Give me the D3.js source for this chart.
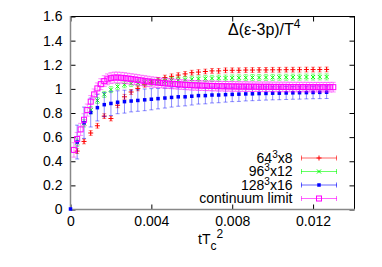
<!DOCTYPE html>
<html>
<head>
<meta charset="utf-8">
<script src="https://cdn.jsdelivr.net/npm/d3@7"></script>
<style>
    html, body { margin: 0; padding: 0; background: #ffffff; }
    svg { display: block; font-family: 'Liberation Sans', Arial, sans-serif; }
</style>
</head>
<body>
<svg id="chart" width="382" height="267"></svg>
<script>
/* Delta(e-3p)/T^4 vs flow time, three lattices + continuum limit */

// Flow times of the lattice data
const tLattice = [
    0.00033, 0.00067, 0.00100, 0.00133, 0.00167, 0.00200, 0.00233, 0.00267, 0.00300, 0.00333,
    0.00367, 0.00400, 0.00433, 0.00467, 0.00500, 0.00533, 0.00567, 0.00600, 0.00633, 0.00667,
    0.00700, 0.00733, 0.00767, 0.00800, 0.00833, 0.00867, 0.00900, 0.00933, 0.00967, 0.01000,
    0.01033, 0.01067, 0.01100, 0.01133, 0.01167, 0.01200, 0.01233, 0.01267
];

// 64^3x8
const val64 = [
    0.48, 0.56, 0.63, 0.69, 0.77, 0.75, 0.86, 0.93, 0.97, 1.00,
    1.03, 1.05, 1.07, 1.09, 1.10, 1.11, 1.12, 1.13, 1.135, 1.14,
    1.145, 1.145, 1.15, 1.15, 1.15, 1.152, 1.152, 1.153, 1.153, 1.154,
    1.154, 1.155, 1.155, 1.155, 1.156, 1.156, 1.156, 1.157
];
const err64 = [
    0.02, 0.02, 0.02, 0.02, 0.02, 0.02, 0.02, 0.02, 0.02, 0.02,
    0.02, 0.02, 0.02, 0.02, 0.02, 0.02, 0.02, 0.02, 0.02, 0.02,
    0.02, 0.02, 0.02, 0.02, 0.02, 0.02, 0.02, 0.02, 0.02, 0.02,
    0.02, 0.02, 0.02, 0.02, 0.02, 0.02, 0.02, 0.02
];

// 96^3x12
const val96 = [
    0.55, 0.71, 0.82, 0.90, 0.95, 0.99, 1.015, 1.03, 1.04, 1.045,
    1.05, 1.052, 1.055, 1.06, 1.065, 1.07, 1.073, 1.076, 1.079, 1.081,
    1.083, 1.085, 1.086, 1.087, 1.088, 1.089, 1.09, 1.09, 1.091, 1.091,
    1.092, 1.092, 1.093, 1.093, 1.094, 1.094, 1.095, 1.095
];
const err96 = [
    0.03, 0.03, 0.03, 0.025, 0.025, 0.025, 0.025, 0.025, 0.025, 0.025,
    0.025, 0.025, 0.025, 0.025, 0.025, 0.025, 0.025, 0.025, 0.025, 0.025,
    0.025, 0.025, 0.025, 0.025, 0.025, 0.025, 0.025, 0.025, 0.025, 0.025,
    0.025, 0.025, 0.025, 0.025, 0.025, 0.025, 0.025, 0.025
];

// 128^3x16 (first point sits at the origin)
const tFine = [0].concat(tLattice);
const val128 = [
    0,
    0.555, 0.715, 0.80, 0.84, 0.865, 0.875, 0.885, 0.89, 0.895, 0.90,
    0.905, 0.91, 0.915, 0.92, 0.925, 0.93, 0.93, 0.935, 0.94, 0.94,
    0.945, 0.945, 0.948, 0.95, 0.952, 0.954, 0.955, 0.957, 0.958, 0.96,
    0.96, 0.962, 0.963, 0.964, 0.965, 0.966, 0.967, 0.968
];
const err128 = [
    0,
    0.14, 0.13, 0.12, 0.11, 0.10, 0.10, 0.095, 0.095, 0.09, 0.09,
    0.09, 0.088, 0.085, 0.083, 0.08, 0.078, 0.075, 0.073, 0.07, 0.068,
    0.066, 0.064, 0.062, 0.06, 0.06, 0.058, 0.057, 0.056, 0.055, 0.055,
    0.054, 0.054, 0.053, 0.053, 0.052, 0.052, 0.052, 0.052
];

// continuum limit
const tCont = [
    0.00017, 0.00033, 0.00050, 0.00067, 0.00083, 0.00100, 0.00117, 0.00133, 0.00150, 0.00167,
    0.00183, 0.00200, 0.00217, 0.00233, 0.00250, 0.00267, 0.00283, 0.00300, 0.00317, 0.00333,
    0.00350, 0.00367, 0.00383, 0.00400, 0.00417, 0.00433, 0.00450, 0.00467, 0.00483, 0.00500,
    0.00517, 0.00533, 0.00550, 0.00567, 0.00583, 0.00600, 0.00617, 0.00633, 0.00650, 0.00667,
    0.00683, 0.00700, 0.00717, 0.00733, 0.00750, 0.00767, 0.00783, 0.00800, 0.00817, 0.00833,
    0.00850, 0.00867, 0.00883, 0.00900, 0.00917, 0.00933, 0.00950, 0.00967, 0.00983, 0.01000,
    0.01017, 0.01033, 0.01050, 0.01067, 0.01083, 0.01100, 0.01117, 0.01133, 0.01150, 0.01167,
    0.01183, 0.01200, 0.01217, 0.01233, 0.01250, 0.01267, 0.01283, 0.01300
];
const valCont = [
    0.49, 0.58, 0.66, 0.74, 0.82, 0.89, 0.95, 1.00, 1.035, 1.06,
    1.075, 1.085, 1.09, 1.09, 1.088, 1.085, 1.082, 1.078, 1.074, 1.070,
    1.066, 1.062, 1.058, 1.054, 1.051, 1.048, 1.045, 1.042, 1.040, 1.038,
    1.036, 1.034, 1.032, 1.030, 1.028, 1.026, 1.025, 1.024, 1.023, 1.022,
    1.021, 1.020, 1.019, 1.018, 1.018, 1.017, 1.017, 1.016, 1.016, 1.015,
    1.015, 1.015, 1.014, 1.014, 1.014, 1.013, 1.013, 1.013, 1.013, 1.012,
    1.012, 1.012, 1.012, 1.012, 1.011, 1.011, 1.011, 1.011, 1.011, 1.011,
    1.010, 1.010, 1.010, 1.010, 1.010, 1.010, 1.010, 1.010
];
const errCont = [
    0.06, 0.055, 0.05, 0.05, 0.05, 0.05, 0.045, 0.045, 0.045, 0.045,
    0.045, 0.045, 0.045, 0.045, 0.045, 0.045, 0.044, 0.044, 0.044, 0.044,
    0.043, 0.043, 0.043, 0.042, 0.042, 0.042, 0.041, 0.041, 0.041, 0.040,
    0.040, 0.040, 0.040, 0.040, 0.040, 0.040, 0.040, 0.040, 0.040, 0.040,
    0.040, 0.040, 0.040, 0.040, 0.040, 0.040, 0.040, 0.040, 0.040, 0.040,
    0.040, 0.040, 0.040, 0.040, 0.040, 0.040, 0.040, 0.040, 0.040, 0.040,
    0.040, 0.040, 0.040, 0.040, 0.040, 0.040, 0.040, 0.040, 0.040, 0.040,
    0.040, 0.040, 0.040, 0.040, 0.040, 0.040, 0.040, 0.040
];

// Axis ticks
const xTicks = [0, 0.004, 0.008, 0.012];
const yTicks = [0, 0.2, 0.4, 0.6, 0.8, 1, 1.2, 1.4, 1.6];

(function() {
    'use strict';

    const series = [
        { label: ['64', '3', 'x8'], color: '#ff0000', marker: 'plus', t: tLattice, v: val64, e: err64 },
        { label: ['96', '3', 'x12'], color: '#00ff00', marker: 'cross', t: tLattice, v: val96, e: err96 },
        { label: ['128', '3', 'x16'], color: '#0000ff', marker: 'fsquare', t: tFine, v: val128, e: err128 },
        { label: ['continuum limit', '', ''], color: '#ff00ff', marker: 'osquare', t: tCont, v: valCont, e: errCont }
    ];

    const svg = d3.select('#chart');

    const margin = { top: 16, right: 28, bottom: 58, left: 70 };
    const width = 382, height = 267;
    const innerWidth = width - margin.left - margin.right;
    const innerHeight = height - margin.top - margin.bottom;

    const x = d3.scaleLinear().domain([0, 0.014]).range([0, innerWidth - 1]);
    const y = d3.scaleLinear().domain([0, 1.6]).range([innerHeight, 0]);

    const g = svg.append('g')
        .attr('transform', `translate(${margin.left}, ${margin.top})`);

    // Frame
    g.append('rect')
        .attr('x', 0.5).attr('y', 0.5)
        .attr('width', innerWidth).attr('height', innerHeight)
        .attr('fill', 'none')
        .attr('stroke', '#000')
        .attr('stroke-width', 1);

    // Axes (inward ticks, no domain line)
    function styleAxis(sel) {
        sel.select('.domain').remove();
        sel.selectAll('line').attr('stroke', '#000');
        sel.selectAll('text')
            .attr('fill', '#000')
            .style('font-size', '14px')
            .style('font-family', "'Liberation Sans', Arial, sans-serif");
    }

    g.append('g')
        .attr('transform', 'translate(0.5, 0.5)')
        .call(d3.axisLeft(y).tickValues(yTicks).tickSizeInner(-5).tickSizeOuter(0).tickPadding(8)
            .tickFormat(d3.format('~g')))
        .call(styleAxis);

    g.append('g')
        .attr('transform', `translate(${innerWidth + 0.5}, 0.5)`)
        .call(d3.axisRight(y).tickValues(yTicks).tickSizeInner(-5).tickSizeOuter(0).tickFormat(''))
        .call(styleAxis);

    g.append('g')
        .attr('transform', `translate(0.5, ${innerHeight + 0.5})`)
        .call(d3.axisBottom(x).tickValues(xTicks).tickSizeInner(-5).tickSizeOuter(0).tickPadding(7)
            .tickFormat(d3.format('~g')))
        .call(styleAxis);

    g.append('g')
        .attr('transform', 'translate(0.5, 0.5)')
        .call(d3.axisTop(x).tickValues(xTicks).tickSizeInner(-5).tickSizeOuter(0).tickFormat(''))
        .call(styleAxis);

    // Zero axes in grey over the left and bottom edges
    g.append('line')
        .attr('x1', x(0) + 0.5).attr('x2', x(0) + 0.5)
        .attr('y1', 0).attr('y2', innerHeight + 1)
        .attr('stroke', '#888').attr('stroke-width', 1.5);
    g.append('line')
        .attr('x1', 0).attr('x2', innerWidth + 1)
        .attr('y1', y(0) + 0.5).attr('y2', y(0) + 0.5)
        .attr('stroke', '#888').attr('stroke-width', 1.5);

    // Marker shapes
    function drawMarker(sel, type, color) {
        if (type === 'plus') {
            sel.append('path').attr('d', 'M-2.5,0H2.5M0,-2.5V2.5')
                .attr('stroke', color).attr('stroke-width', 1).attr('fill', 'none');
        } else if (type === 'cross') {
            sel.append('path').attr('d', 'M-2,-2L2,2M-2,2L2,-2')
                .attr('stroke', color).attr('stroke-width', 1).attr('fill', 'none');
        } else if (type === 'fsquare') {
            sel.append('rect').attr('x', -1.75).attr('y', -1.75).attr('width', 3.5).attr('height', 3.5)
                .attr('fill', color);
        } else {
            sel.append('rect').attr('x', -2.5).attr('y', -2.5).attr('width', 5).attr('height', 5)
                .attr('fill', 'none').attr('stroke', color).attr('stroke-width', 1);
        }
    }

    // Data with error bars
    const plot = g.append('g').attr('transform', 'translate(0.5, 0)');
    series.forEach(s => {
        const sg = plot.append('g');
        const cap = s.marker === 'osquare' ? 2.5 : 2;
        s.t.forEach((t, i) => {
            const cx = x(t);
            const cy = y(s.v[i]);
            const hi = y(s.v[i] + s.e[i]);
            const lo = y(s.v[i] - s.e[i]);
            if (s.e[i] > 0) {
                sg.append('path')
                    .attr('d', `M${cx},${hi}V${lo}M${cx - cap},${hi}H${cx + cap}M${cx - cap},${lo}H${cx + cap}`)
                    .attr('stroke', s.color)
                    .attr('stroke-opacity', 0.45)
                    .attr('stroke-width', 1)
                    .attr('fill', 'none');
            }
            const m = sg.append('g').attr('transform', `translate(${cx}, ${cy})`);
            drawMarker(m, s.marker, s.color);
        });
    });

    // Title
    const title = svg.append('text')
        .attr('x', 228)
        .attr('y', 35)
        .style('font-size', '16px')
        .attr('fill', '#000');
    title.append('tspan').text('\u0394(\u03b5-3p)/T');
    title.append('tspan').attr('dy', -7).style('font-size', '12px').text('4');

    // X axis label
    const xl = svg.append('text')
        .attr('x', 198)
        .attr('y', 244)
        .style('font-size', '14px')
        .attr('fill', '#000');
    xl.append('tspan').text('tT');
    xl.append('tspan').attr('dy', 6).style('font-size', '12px').text('c');
    xl.append('tspan').attr('dy', -12).style('font-size', '12px').text('2');

    // Legend
    const legendRows = [157.5, 171, 184.5, 198];
    const legend = svg.append('g').attr('class', 'legend');
    series.forEach((s, i) => {
        const ly = legendRows[i];
        const txt = legend.append('text')
            .attr('x', 292.5)
            .attr('y', ly + 5)
            .attr('text-anchor', 'end')
            .style('font-size', '14px')
            .attr('fill', '#000');
        txt.append('tspan').text(s.label[0]);
        if (s.label[1]) {
            txt.append('tspan').attr('dy', -5).style('font-size', '10px').text(s.label[1]);
            txt.append('tspan').attr('dy', 5).text(s.label[2]);
        }
        legend.append('path')
            .attr('d', `M301,${ly + 0.5}H337M301.5,${ly - 2}V${ly + 3}M336.5,${ly - 2}V${ly + 3}`)
            .attr('stroke', s.color)
            .attr('stroke-opacity', 0.6)
            .attr('fill', 'none');
        const m = legend.append('g').attr('transform', `translate(319, ${ly + 0.5})`);
        drawMarker(m, s.marker, s.color);
    });
})();
</script>
</body>
</html>
